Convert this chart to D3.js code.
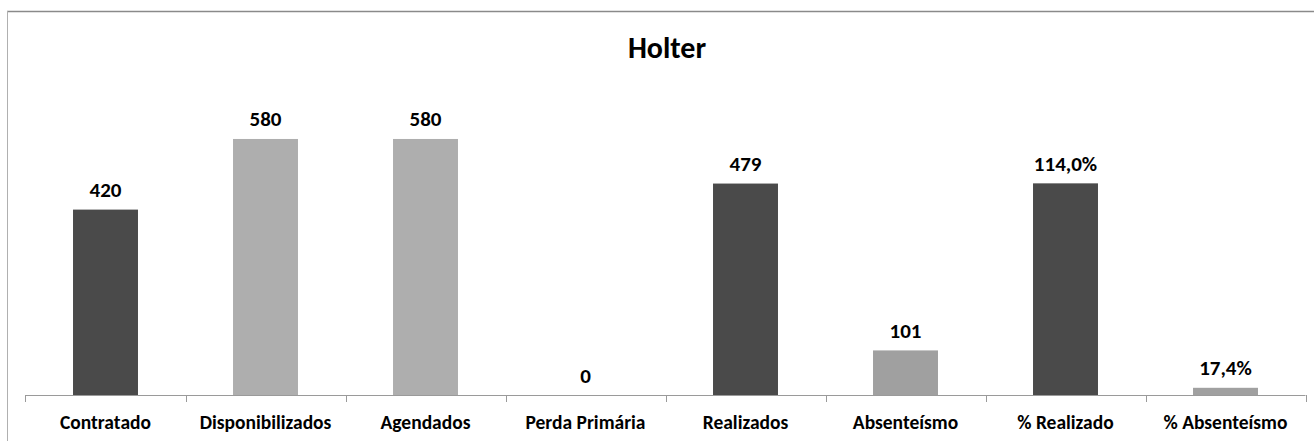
<!DOCTYPE html>
<html>
<head>
<meta charset="utf-8">
<script src="https://cdn.jsdelivr.net/npm/d3@7"></script>
<style>
  html, body { margin: 0; padding: 0; background: #ffffff; }
  svg { display: block; }
  text { font-family: Carlito, Calibri, Lato, "Open Sans", sans-serif; font-weight: 700; fill: #000; }
</style>
</head>
<body>
<svg id="chart" width="1314" height="441"></svg>
<script>
// Holter indicators
const title = "Holter";
const categories = ["Contratado", "Disponibilizados", "Agendados", "Perda Primária",
                    "Realizados", "Absenteísmo", "% Realizado", "% Absenteísmo"];
// absolute counts (primary axis)
const counts = [420, 580, 580, 0, 479, 101, null, null];
// rates (secondary axis)
const rates = [null, null, null, null, null, null, 1.140, 0.174];

const svg = d3.select("#chart");
const W = 1314, H = 441;

// chart area frame
svg.append("line").attr("x1", 7).attr("x2", W).attr("y1", 11.5).attr("y2", 11.5)
  .attr("stroke", "#8a8a8a").attr("stroke-width", 1.5);
svg.append("line").attr("x1", 7.5).attr("x2", 7.5).attr("y1", 11).attr("y2", H)
  .attr("stroke", "#b0b0b0").attr("stroke-width", 1);

const plot = { left: 25.5, right: 1305.5, top: 86, bottom: 395 };

const x = d3.scaleBand().domain(categories)
  .range([plot.left, plot.right]).paddingInner(0.594).paddingOuter(0.297);
const y = d3.scaleLinear().domain([0, 700]).range([plot.bottom, plot.top]);
const y2 = d3.scaleLinear().domain([0.14, 1.6]).range([plot.bottom, plot.top]);

const pt = d3.formatLocale({ decimal: ",", thousands: ".", grouping: [3], currency: ["R$", ""] });
const fmtCount = pt.format("d");
const fmtRate = pt.format(".1%");

const shade = i => [0, 4, 6].includes(i) ? "#4a4a4a" : (i === 5 || i === 7) ? "#a0a0a0" : "#aeaeae";

const rows = categories.map((c, i) => {
  const isRate = rates[i] != null;
  const v = isRate ? rates[i] : counts[i];
  const top = isRate ? y2(v) : y(v);
  return { c, i, v, top, label: isRate ? fmtRate(v) : fmtCount(v) };
});

// bars
svg.append("g").selectAll("rect").data(rows).join("rect")
  .attr("x", d => x(d.c))
  .attr("width", x.bandwidth())
  .attr("y", d => d.top)
  .attr("height", d => plot.bottom - d.top)
  .attr("fill", d => shade(d.i));

// category axis
const axis = d3.axisBottom(x).tickSize(0).tickPadding(0).tickFormat(() => "");
const gx = svg.append("g").attr("transform", `translate(0,${plot.bottom})`).call(axis);
gx.select(".domain").remove();
gx.selectAll(".tick").remove();
gx.append("line").attr("x1", plot.left).attr("x2", plot.right).attr("y1", 0.5).attr("y2", 0.5)
  .attr("stroke", "#9a9a9a").attr("stroke-width", 1);
const bounds = categories.map(c => x(c) - x.step() * x.paddingOuter()).concat([plot.right]);
gx.selectAll("line.sep").data(bounds).join("line").attr("class", "sep")
  .attr("x1", d => Math.round(d) + 0.5).attr("x2", d => Math.round(d) + 0.5)
  .attr("y1", 0).attr("y2", 7).attr("stroke", "#9a9a9a");

// category labels
svg.append("g").selectAll("text").data(categories).join("text")
  .attr("x", c => x(c) + x.bandwidth() / 2)
  .attr("y", 428.5)
  .attr("text-anchor", "middle")
  .style("font-size", "19.5px")
  .text(c => c);

// value labels
svg.append("g").selectAll("text").data(rows).join("text")
  .attr("x", d => x(d.c) + x.bandwidth() / 2)
  .attr("y", d => d.top - 12.5)
  .attr("text-anchor", "middle")
  .style("font-size", "21px")
  .text(d => d.label);

// title
svg.append("text").attr("x", 667).attr("y", 58).attr("text-anchor", "middle")
  .style("font-size", "30px").text(title);
</script>
</body>
</html>
